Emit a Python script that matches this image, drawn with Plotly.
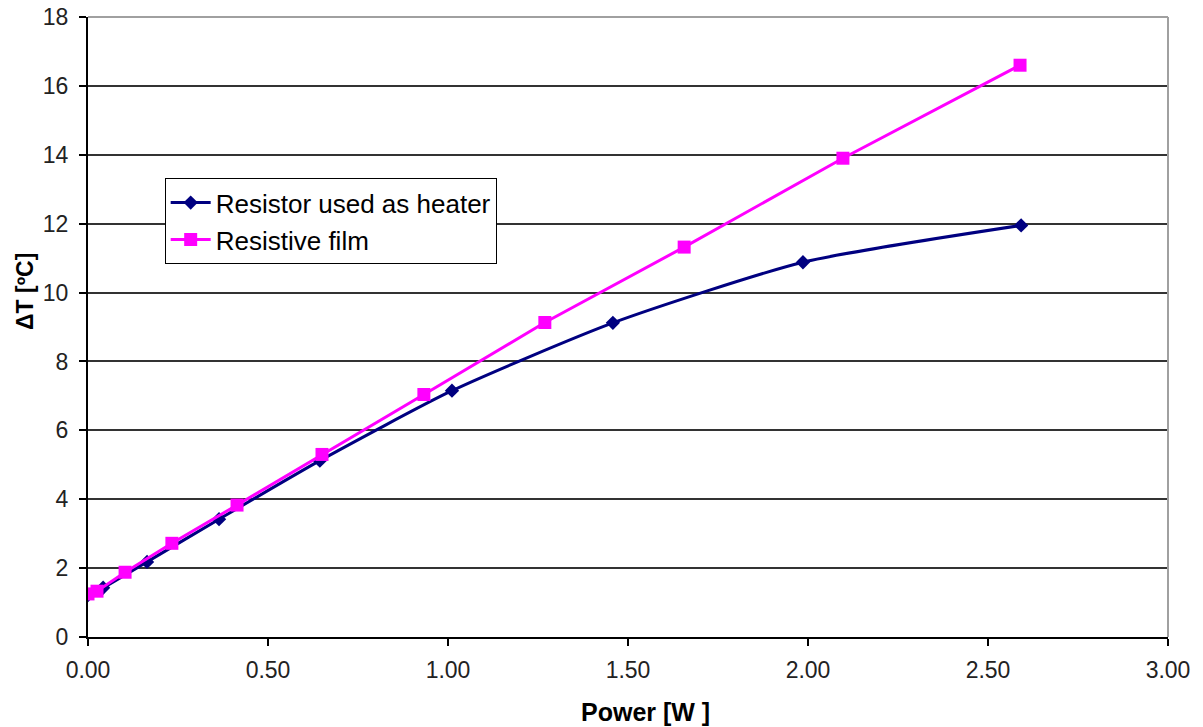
import plotly.graph_objects as go

# Data
heater_power = [0.0, 0.042, 0.164, 0.364, 0.644, 1.011, 1.458, 1.986, 2.592]
heater_dT = [1.22, 1.43, 2.18, 3.42, 5.12, 7.15, 9.12, 10.88, 11.95]

film_power = [0.0, 0.025, 0.103, 0.233, 0.414, 0.650, 0.933, 1.269, 1.656, 2.097, 2.589]
film_dT = [1.25, 1.33, 1.88, 2.72, 3.83, 5.30, 7.04, 9.13, 11.32, 13.90, 16.60]

x_ticks = [0, 0.5, 1.0, 1.5, 2.0, 2.5, 3.0]
y_ticks = [0, 2, 4, 6, 8, 10, 12, 14, 16, 18]

FONT = "Liberation Sans, Arial, sans-serif"

fig = go.Figure()
fig.add_trace(go.Scatter(
    x=heater_power, y=heater_dT, name="Resistor used as heater",
    mode="lines+markers",
    line=dict(color="#000080", width=3, shape="spline", smoothing=0.6),
    marker=dict(symbol="diamond", size=11, color="#000080"),
))
fig.add_trace(go.Scatter(
    x=film_power, y=film_dT, name="Resistive film",
    mode="lines+markers",
    line=dict(color="#FF00FF", width=3),
    marker=dict(symbol="square", size=13, color="#FF00FF"),
))

fig.update_layout(
    width=1203, height=727,
    margin=dict(l=80, r=43, t=9, b=98, autoexpand=False),
    paper_bgcolor="white", plot_bgcolor="white",
    font=dict(family=FONT, size=23, color="#222"),
    showlegend=True,
    legend=dict(
        x=0.071, y=0.74, xanchor="left", yanchor="top",
        bgcolor="white", bordercolor="black", borderwidth=1,
        font=dict(family=FONT, size=26, color="black"),
        itemwidth=40, tracegroupgap=0,
    ),
    xaxis=dict(
        range=[0, 3], tickvals=x_ticks, tickformat=".2f",
        showgrid=False, zeroline=False, automargin=False,
        showline=True, linecolor="black", linewidth=2,
        ticks="outside", ticklen=7, tickwidth=2, tickcolor="black",
        ticklabelstandoff=4, ticklabeloverflow="allow",
    ),
    yaxis=dict(
        range=[0, 18], tickvals=y_ticks,
        showgrid=True, gridcolor="#333", gridwidth=1.5,
        zeroline=False, automargin=False,
        showline=True, linecolor="black", linewidth=2,
        ticks="outside", ticklen=7, tickwidth=2, tickcolor="black",
        ticklabelstandoff=6, ticklabeloverflow="allow",
    ),
    shapes=[
        dict(type="line", xref="paper", yref="paper", x0=0, x1=1, y0=1, y1=1,
             line=dict(color="#a0a0a0", width=2)),
        dict(type="line", xref="paper", yref="paper", x0=1, x1=1, y0=0, y1=1,
             line=dict(color="#a0a0a0", width=2)),
    ],
    annotations=[
        dict(text="<b>Power [W ]</b>", xref="paper", yref="paper",
             x=(645 - 88) / 1080, y=-(712 - 637) / 620, xanchor="center", yanchor="middle",
             showarrow=False, font=dict(family=FONT, size=25, color="black")),
        dict(text="<b>ΔT [ºC]</b>", xref="paper", yref="paper",
             x=-(88 - 25) / 1080, y=(637 - 292) / 620, xanchor="center", yanchor="middle",
             textangle=-90, showarrow=False, font=dict(family=FONT, size=23, color="black")),
    ],
)

fig.write_html("out.html")
